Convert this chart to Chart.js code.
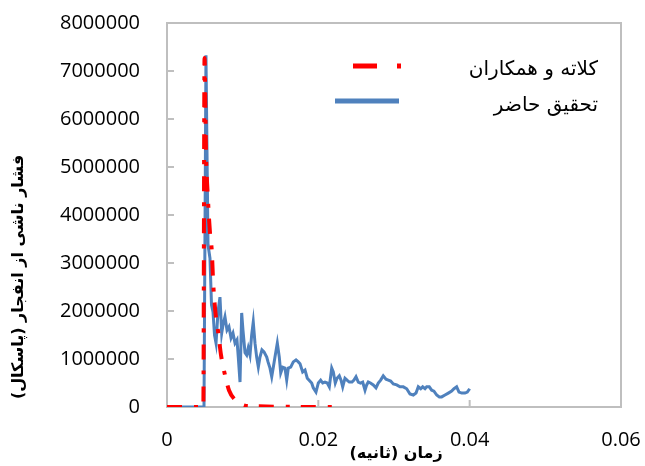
<!DOCTYPE html>
<html>
<head>
<meta charset="utf-8">
<script src="https://cdn.jsdelivr.net/npm/chart.js@4.4.1/dist/chart.umd.min.js"></script>
<style>
  html, body { margin: 0; padding: 0; background: #fff; }
  canvas { display: block; }
</style>
</head>
<body>
<canvas id="chart" width="645" height="466"></canvas>
<script>
// Kalateh et al. (red, dash-dot)
const redTime = [0, 0.0048, 0.00496, 0.00515, 0.00542, 0.00568, 0.00591, 0.00612, 0.00641, 0.00678,
  0.00714, 0.00766, 0.00819, 0.00899, 0.00978, 0.0107, 0.0219];
const redPressure = [0, 0, 7270000, 5350000, 4310000, 3630000, 3270000, 2540000, 1960000, 1540000,
  1080000, 670000, 350000, 150000, 60000, 20000, 0];

// present study (blue)
const blueTime = [0, 0.00489, 0.00515, 0.00542, 0.00568, 0.00588, 0.00608, 0.00628, 0.00648, 0.00674,
  0.0070, 0.00723, 0.0074, 0.00766, 0.00793, 0.00819, 0.00846, 0.00872, 0.00899, 0.00925,
  0.00942, 0.00965, 0.00987, 0.01004, 0.01031, 0.01053, 0.01074, 0.01097, 0.01119, 0.0114,
  0.01163, 0.01185, 0.01207, 0.01229, 0.01255, 0.01282, 0.01318, 0.01335, 0.01361, 0.01384,
  0.01405, 0.01427, 0.01458, 0.01484, 0.01503, 0.01529, 0.01559, 0.01582, 0.01603, 0.01635,
  0.01669, 0.01705, 0.01735, 0.01758, 0.01793, 0.01824, 0.01854, 0.01912, 0.01933, 0.01969,
  0.0200, 0.02031, 0.02058, 0.02088, 0.02118, 0.02145, 0.02177, 0.02198, 0.02224, 0.02247,
  0.02277, 0.0230, 0.02322, 0.02352, 0.02379, 0.02409, 0.02445, 0.02471, 0.02498, 0.02528,
  0.02557, 0.02586, 0.02617, 0.02639, 0.0266, 0.02689, 0.02726, 0.02762, 0.02792, 0.02824,
  0.02858, 0.02894, 0.02925, 0.02956, 0.02991, 0.03036, 0.03079, 0.03123, 0.03168, 0.03211,
  0.03255, 0.03291, 0.03321, 0.03353, 0.03379, 0.0341, 0.03432, 0.03466, 0.03498, 0.03528,
  0.03564, 0.03599, 0.0363, 0.03674, 0.03718, 0.03762, 0.03793, 0.03828, 0.03859, 0.03895,
  0.03938, 0.03969, 0.0400];
const bluePressure = [0, 0, 7330000, 3380000, 3100000, 2130000, 1980000, 1500000, 1330000, 1980000,
  2290000, 1540000, 1710000, 1880000, 1600000, 1670000, 1440000, 1540000, 1330000, 1400000,
  1040000, 520000, 1960000, 1600000, 1130000, 1080000, 1230000, 1080000, 1500000, 1770000,
  1330000, 1040000, 830000, 1040000, 1190000, 1150000, 1040000, 940000, 810000, 630000,
  830000, 1040000, 1330000, 1040000, 710000, 830000, 810000, 560000, 810000, 830000,
  940000, 980000, 940000, 900000, 730000, 770000, 600000, 500000, 400000, 310000,
  500000, 560000, 500000, 520000, 500000, 420000, 810000, 730000, 500000, 600000,
  650000, 560000, 420000, 600000, 560000, 520000, 520000, 560000, 630000, 520000,
  500000, 520000, 350000, 460000, 520000, 500000, 460000, 400000, 500000, 560000,
  650000, 580000, 560000, 540000, 480000, 460000, 420000, 420000, 380000, 270000,
  250000, 290000, 420000, 380000, 420000, 380000, 420000, 420000, 350000, 330000,
  250000, 210000, 210000, 250000, 290000, 330000, 380000, 420000, 310000, 290000,
  290000, 310000, 380000];

const seriesNames = ['کلاته و همکاران', 'تحقیق حاضر'];
const xTitle = 'زمان (ثانیه)';
const yTitle = 'فشار ناشی از انفجار (پاسکال)';

const toPoints = (xs, ys) => xs.map((x, i) => ({ x, y: ys[i] }));

const tickFont = { family: '"Open Sans", "DejaVu Sans", sans-serif', size: 20 };
const faFont = '"DejaVu Sans", sans-serif';

// box around the plot, inside tick marks, legend and axis titles
const decor = {
  id: 'decor',
  beforeDatasetsDraw(chart) {
    const { ctx, chartArea: a, scales: { x, y } } = chart;
    ctx.save();
    ctx.strokeStyle = '#BFBFBF';
    ctx.lineWidth = 2;
    ctx.strokeRect(a.left, a.top, a.right - a.left, a.bottom - a.top);
    ctx.beginPath();
    y.ticks.forEach(t => {
      const py = y.getPixelForValue(t.value);
      ctx.moveTo(a.left, py); ctx.lineTo(a.left + 7, py);
    });
    x.ticks.forEach(t => {
      const px = x.getPixelForValue(t.value);
      ctx.moveTo(px, a.bottom); ctx.lineTo(px, a.bottom - 7);
    });
    ctx.stroke();
    ctx.restore();
  },
  afterDraw(chart) {
    const { ctx } = chart;
    const ds = chart.data.datasets;
    ctx.save();
    // legend
    ctx.lineCap = 'butt';
    ctx.lineWidth = 5;
    ctx.strokeStyle = ds[0].borderColor;
    ctx.setLineDash([24, 20, 4, 20]);
    ctx.beginPath(); ctx.moveTo(353, 66); ctx.lineTo(402, 66); ctx.stroke();
    ctx.strokeStyle = ds[1].borderColor;
    ctx.setLineDash([]);
    ctx.beginPath(); ctx.moveTo(335, 101); ctx.lineTo(399, 101); ctx.stroke();

    ctx.fillStyle = '#000';
    ctx.direction = 'rtl';
    ctx.textAlign = 'right';
    ctx.textBaseline = 'middle';
    ctx.font = '20px ' + faFont;
    ctx.fillText(ds[0].label, 598, 70);
    ctx.fillText(ds[1].label, 598, 106);

    // axis titles
    ctx.textAlign = 'center';
    ctx.font = 'bold 16px ' + faFont;
    ctx.fillText(xTitle, 396, 454);
    ctx.translate(19, 277);
    ctx.rotate(-Math.PI / 2);
    ctx.fillText(yTitle, 0, 0);
    ctx.restore();
  }
};

new Chart(document.getElementById('chart'), {
  type: 'line',
  data: {
    datasets: [
      {
        label: seriesNames[0],
        data: toPoints(redTime, redPressure),
        borderColor: '#FF0000',
        borderWidth: 4,
        borderDash: [15, 12, 4, 11],
        pointRadius: 0,
        cubicInterpolationMode: 'monotone',
        fill: false
      },
      {
        label: seriesNames[1],
        data: toPoints(blueTime, bluePressure),
        borderColor: '#4F81BD',
        borderWidth: 3,
        pointRadius: 0,
        tension: 0,
        fill: false
      }
    ]
  },
  options: {
    responsive: false,
    animation: false,
    layout: { padding: { left: 0, top: 23, right: 24, bottom: 0 } },
    plugins: { legend: { display: false }, tooltip: { enabled: false } },
    scales: {
      x: {
        type: 'linear',
        min: 0, max: 0.06,
        afterFit(s) { s.height = 59; s.paddingLeft = 0; s.paddingRight = 0; },
        grid: { display: false, drawTicks: false },
        border: { display: false },
        ticks: {
          stepSize: 0.02, padding: 21, color: '#000', font: tickFont,
          maxRotation: 0,
          callback: v => v === 0 ? '0' : v.toFixed(2)
        }
      },
      y: {
        min: 0, max: 8000000,
        afterFit(s) { s.width = 167; s.paddingTop = 0; s.paddingBottom = 0; },
        grid: { display: false, drawTicks: false },
        border: { display: false },
        ticks: {
          stepSize: 1000000, padding: 27, color: '#000', font: tickFont,
          callback: v => String(v)
        }
      }
    }
  },
  plugins: [decor]
});
</script>
</body>
</html>
